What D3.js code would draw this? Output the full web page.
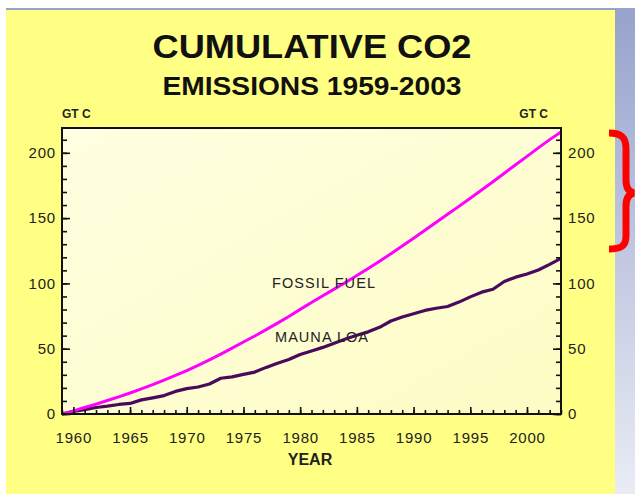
<!DOCTYPE html>
<html>
<head>
<meta charset="utf-8">
<script src="https://cdn.jsdelivr.net/npm/d3@7"></script>
<style>
  body { margin: 0; background: #fff; }
  svg { display: block; font-family: "Liberation Sans", Arial, sans-serif; }
</style>
</head>
<body>
<svg id="svg"></svg>
<script>
/**
 * DATA
 * */
const years = d3.range(1959, 2004);
const fossilFuel = [0, 2.4, 5.0, 7.6, 10.3, 13.1, 16.1, 19.2, 22.5, 25.9,
  29.5, 33.3, 37.3, 41.5, 45.9, 50.5, 55.1, 59.7, 64.6, 69.6,
  74.7, 80.1, 85.4, 90.5, 95.6, 100.7, 106.0, 111.4, 117.0, 122.7,
  128.6, 134.6, 140.7, 146.8, 152.9, 159.0, 165.2, 171.5, 177.9, 184.4,
  190.9, 197.3, 203.8, 210.1, 216.0];
const maunaLoa = [0, 1.9, 3.3, 5.0, 6.0, 7.3, 8.1, 10.8, 12.4, 14.1,
  17.3, 19.4, 20.7, 23.0, 27.4, 28.4, 30.3, 32.1, 35.7, 38.9,
  41.7, 45.6, 48.3, 51.0, 54.2, 57.4, 60.3, 62.9, 66.4, 71.2,
  74.3, 76.8, 79.3, 81.0, 82.3, 85.7, 89.7, 93.3, 95.5, 101.5,
  104.8, 107.2, 110.3, 114.6, 119.2];
const xMajorTicks = [1960, 1965, 1970, 1975, 1980, 1985, 1990, 1995, 2000];
const yMajorTicks = [0, 50, 100, 150, 200];

/**
 * CONSTANTS
 * */
const width = 635,
  height = 494,
  plot = { left: 62, right: 561, top: 128, bottom: 414 };

const svg = d3.select("#svg")
  .attr("width", width)
  .attr("height", height);

const defs = svg.append("defs");
const bgGrad = defs.append("linearGradient").attr("id", "bg")
  .attr("x1", 0).attr("y1", 0).attr("x2", 0).attr("y2", 1);
bgGrad.append("stop").attr("offset", "0%").attr("stop-color", "#97a3cc");
bgGrad.append("stop").attr("offset", "100%").attr("stop-color", "#e9ecf5");

const plotGrad = defs.append("linearGradient").attr("id", "plotbg")
  .attr("x1", 0).attr("y1", 0).attr("x2", 1).attr("y2", 1);
plotGrad.append("stop").attr("offset", "0%").attr("stop-color", "#ffffe2");
plotGrad.append("stop").attr("offset", "100%").attr("stop-color", "#fdfcc4");

// slide background + yellow panel
svg.append("rect").attr("x", 6).attr("y", 8).attr("width", width - 6).attr("height", height - 8)
  .attr("fill", "url(#bg)");
svg.append("rect").attr("x", 6).attr("y", 10).attr("width", 609).attr("height", height - 10)
  .attr("fill", "#ffff84");

// titles
svg.append("text").attr("x", 312).attr("y", 58).attr("text-anchor", "middle")
  .attr("font-size", 34).attr("font-weight", "bold").attr("fill", "#111")
  .attr("textLength", 319).attr("lengthAdjust", "spacingAndGlyphs")
  .text("CUMULATIVE CO2");
svg.append("text").attr("x", 312).attr("y", 95).attr("text-anchor", "middle")
  .attr("font-size", 25).attr("font-weight", "bold").attr("fill", "#111")
  .attr("textLength", 299).attr("lengthAdjust", "spacingAndGlyphs")
  .text("EMISSIONS 1959-2003");

svg.append("text").attr("x", 62).attr("y", 118).attr("font-size", 12)
  .attr("font-weight", "bold").attr("fill", "#222").text("GT C");
svg.append("text").attr("x", 548).attr("y", 118).attr("font-size", 12)
  .attr("font-weight", "bold").attr("fill", "#222").attr("text-anchor", "end").text("GT C");

/**
 * SCALES
 * */
const xScale = d3.scaleLinear().domain([1959, 2003]).range([plot.left, plot.right]);
const yScale = d3.scaleLinear().domain([0, 219]).range([plot.bottom, plot.top]);

svg.append("rect")
  .attr("x", plot.left).attr("y", plot.top)
  .attr("width", plot.right - plot.left).attr("height", plot.bottom - plot.top)
  .attr("fill", "url(#plotbg)");

/**
 * LINES
 * */
const line = d3.line().x((d, i) => xScale(years[i])).y(d => yScale(d));

svg.append("path").datum(maunaLoa)
  .attr("d", line).attr("fill", "none")
  .attr("stroke", "#4a0a5c").attr("stroke-width", 3.2).attr("stroke-linejoin", "round");
svg.append("path").datum(fossilFuel)
  .attr("d", line).attr("fill", "none")
  .attr("stroke", "#ff00ff").attr("stroke-width", 3).attr("stroke-linejoin", "round");

svg.append("text").attr("x", 272).attr("y", 288).attr("font-size", 14.5)
  .attr("fill", "#222").attr("textLength", 103).text("FOSSIL FUEL");
svg.append("text").attr("x", 275).attr("y", 342).attr("font-size", 14.5)
  .attr("fill", "#222").attr("textLength", 93).text("MAUNA LOA");

/**
 * AXES
 * */
function styleAxis(g) {
  g.select(".domain").remove();
  g.selectAll("line").attr("stroke", "#111").attr("stroke-width", 1.6);
  g.selectAll("text").attr("font-size", 15).attr("fill", "#222")
    .attr("letter-spacing", "0.8px").attr("font-family", "Liberation Sans, Arial, sans-serif");
}

// x minor + major
svg.append("g").attr("transform", `translate(0,${plot.bottom})`)
  .call(d3.axisBottom(xScale).tickValues(years).tickSize(-4).tickFormat(""))
  .call(styleAxis);
svg.append("g").attr("transform", `translate(0,${plot.bottom})`)
  .call(d3.axisBottom(xScale).tickValues(xMajorTicks).tickSize(-7).tickPadding(18).tickFormat(d3.format("d")))
  .call(styleAxis);

// y minor + major, left and right
const yMinor = d3.range(0, 220, 10);
svg.append("g").attr("transform", `translate(${plot.left},0)`)
  .call(d3.axisLeft(yScale).tickValues(yMinor).tickSize(-5).tickFormat(""))
  .call(styleAxis);
svg.append("g").attr("transform", `translate(${plot.left},0)`)
  .call(d3.axisLeft(yScale).tickValues(yMajorTicks).tickSize(-8).tickPadding(6))
  .call(styleAxis);
svg.append("g").attr("transform", `translate(${plot.right},0)`)
  .call(d3.axisRight(yScale).tickValues(yMinor).tickSize(-5).tickFormat(""))
  .call(styleAxis);
svg.append("g").attr("transform", `translate(${plot.right},0)`)
  .call(d3.axisRight(yScale).tickValues(yMajorTicks).tickSize(-8).tickPadding(7))
  .call(styleAxis);

// plot frame
svg.append("rect")
  .attr("x", plot.left).attr("y", plot.top)
  .attr("width", plot.right - plot.left).attr("height", plot.bottom - plot.top)
  .attr("fill", "none").attr("stroke", "#111").attr("stroke-width", 2);

svg.append("text").attr("x", 310).attr("y", 465).attr("text-anchor", "middle")
  .attr("font-size", 16).attr("font-weight", "bold").attr("fill", "#222").text("YEAR");

// red brace on the right
svg.append("path")
  .attr("d", "M609,133 C621,133 626,137 626,149 L626,180 C626,188 629,192 634,193 C629,194 626,198 626,206 L626,236 C626,246 621,249 609,249")
  .attr("fill", "none").attr("stroke", "#ff0000").attr("stroke-width", 7);
</script>
</body>
</html>
